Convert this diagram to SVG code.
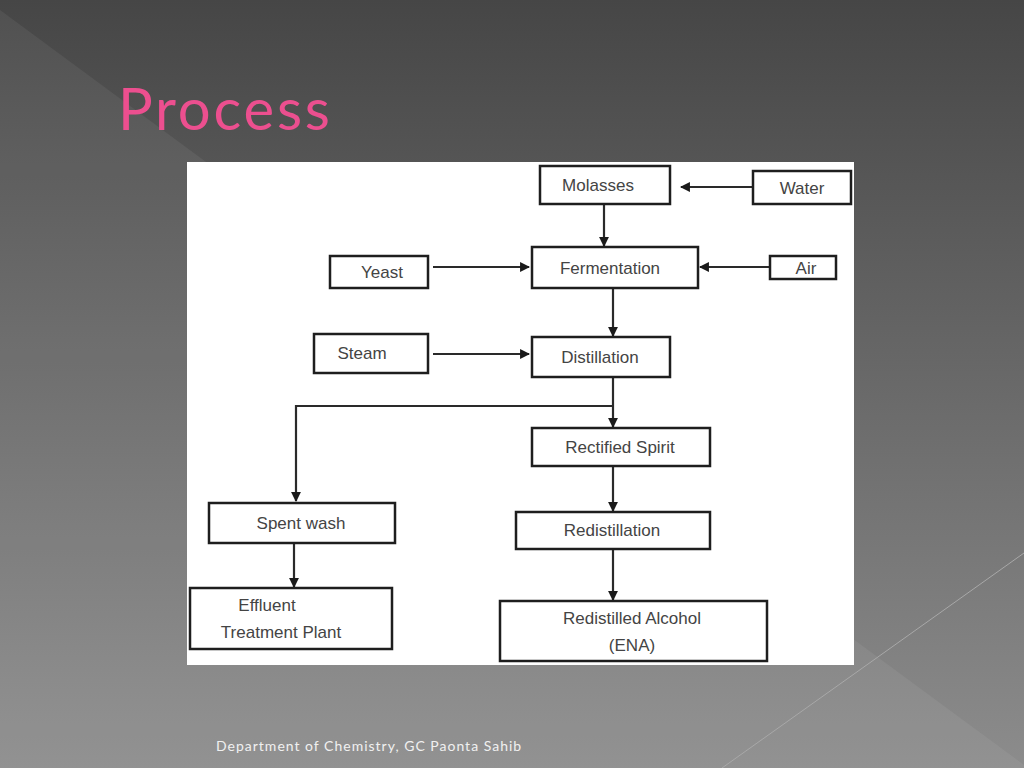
<svg xmlns="http://www.w3.org/2000/svg" width="1024" height="768" viewBox="0 0 1024 768">
<defs>
<linearGradient id="bg" x1="0" y1="0" x2="0" y2="1">
<stop offset="0" stop-color="#464646"/>
<stop offset="1" stop-color="#8c8c8c"/>
</linearGradient>
<marker id="ah" viewBox="0 0 10 10" refX="9" refY="5" markerWidth="4.5" markerHeight="4.5" orient="auto" markerUnits="strokeWidth">
<path d="M0,0 L10,5 L0,10 z" fill="#1a1a1a"/>
</marker>
<style>
.box{fill:#fff;stroke:#1e1e1e;stroke-width:2.5}
.lbl{font-family:"Liberation Sans","Open Sans",sans-serif;font-size:17px;fill:#444;text-anchor:middle}
.con{fill:none;stroke:#2a2a2a;stroke-width:2.2}
</style>
</defs>
<rect width="1024" height="768" fill="url(#bg)"/>
<polygon points="0,10 1024,765 1024,768 0,768" fill="#ffffff" fill-opacity="0.06"/>
<line x1="1024" y1="553" x2="722" y2="768" stroke="#a8a8a8" stroke-width="1"/>
<text x="118" y="130" font-family="Lato,'Open Sans',sans-serif" font-size="58" letter-spacing="2.8" fill="#ec4f8f">Process</text>
<rect x="187" y="162" width="667" height="503" fill="#ffffff"/>
<g id="connectors">
<path class="con" d="M753,187 H681" marker-end="url(#ah)"/>
<path class="con" d="M604,204 V246" marker-end="url(#ah)"/>
<path class="con" d="M433,267 H529" marker-end="url(#ah)"/>
<path class="con" d="M770,267 H700" marker-end="url(#ah)"/>
<path class="con" d="M613,288 V336" marker-end="url(#ah)"/>
<path class="con" d="M433,354 H529" marker-end="url(#ah)"/>
<path class="con" d="M613,377 V427" marker-end="url(#ah)"/>
<path class="con" d="M613,406 H296 V501" marker-end="url(#ah)"/>
<path class="con" d="M613,466 V511" marker-end="url(#ah)"/>
<path class="con" d="M613,549 V600" marker-end="url(#ah)"/>
<path class="con" d="M294,543 V587" marker-end="url(#ah)"/>
</g>
<g id="molasses"><rect class="box" x="540" y="166" width="130" height="38"/><text class="lbl" x="598" y="191">Molasses</text></g>
<g id="water"><rect class="box" x="753" y="171" width="98" height="33"/><text class="lbl" x="802" y="194">Water</text></g>
<g id="yeast"><rect class="box" x="330" y="256" width="98" height="32"/><text class="lbl" x="382" y="278">Yeast</text></g>
<g id="fermentation"><rect class="box" x="532" y="247" width="166" height="41"/><text class="lbl" x="610" y="274">Fermentation</text></g>
<g id="air"><rect class="box" x="770" y="256" width="66" height="23"/><text class="lbl" x="806" y="274">Air</text></g>
<g id="steam"><rect class="box" x="314" y="334" width="114" height="39"/><text class="lbl" x="362" y="359">Steam</text></g>
<g id="distillation"><rect class="box" x="532" y="337" width="138" height="40"/><text class="lbl" x="600" y="363">Distillation</text></g>
<g id="rectified"><rect class="box" x="532" y="428" width="178" height="38"/><text class="lbl" x="620" y="453">Rectified Spirit</text></g>
<g id="redistillation"><rect class="box" x="516" y="512" width="194" height="37" stroke-width="3"/><text class="lbl" x="612" y="536">Redistillation</text></g>
<g id="ena"><rect class="box" x="500" y="601" width="267" height="60"/><text class="lbl" x="632" y="624">Redistilled Alcohol</text><text class="lbl" x="632" y="651">(ENA)</text></g>
<g id="spentwash"><rect class="box" x="209" y="503" width="186" height="40"/><text class="lbl" x="301" y="529">Spent wash</text></g>
<g id="etp"><rect class="box" x="190" y="588" width="202" height="61"/><text class="lbl" x="267" y="611">Effluent</text><text class="lbl" x="281" y="638">Treatment Plant</text></g>
<text x="216" y="751" font-family="Lato,'Open Sans',sans-serif" font-size="14" letter-spacing="1" fill="#f0f0f0">Department of Chemistry, GC Paonta Sahib</text>
</svg>
